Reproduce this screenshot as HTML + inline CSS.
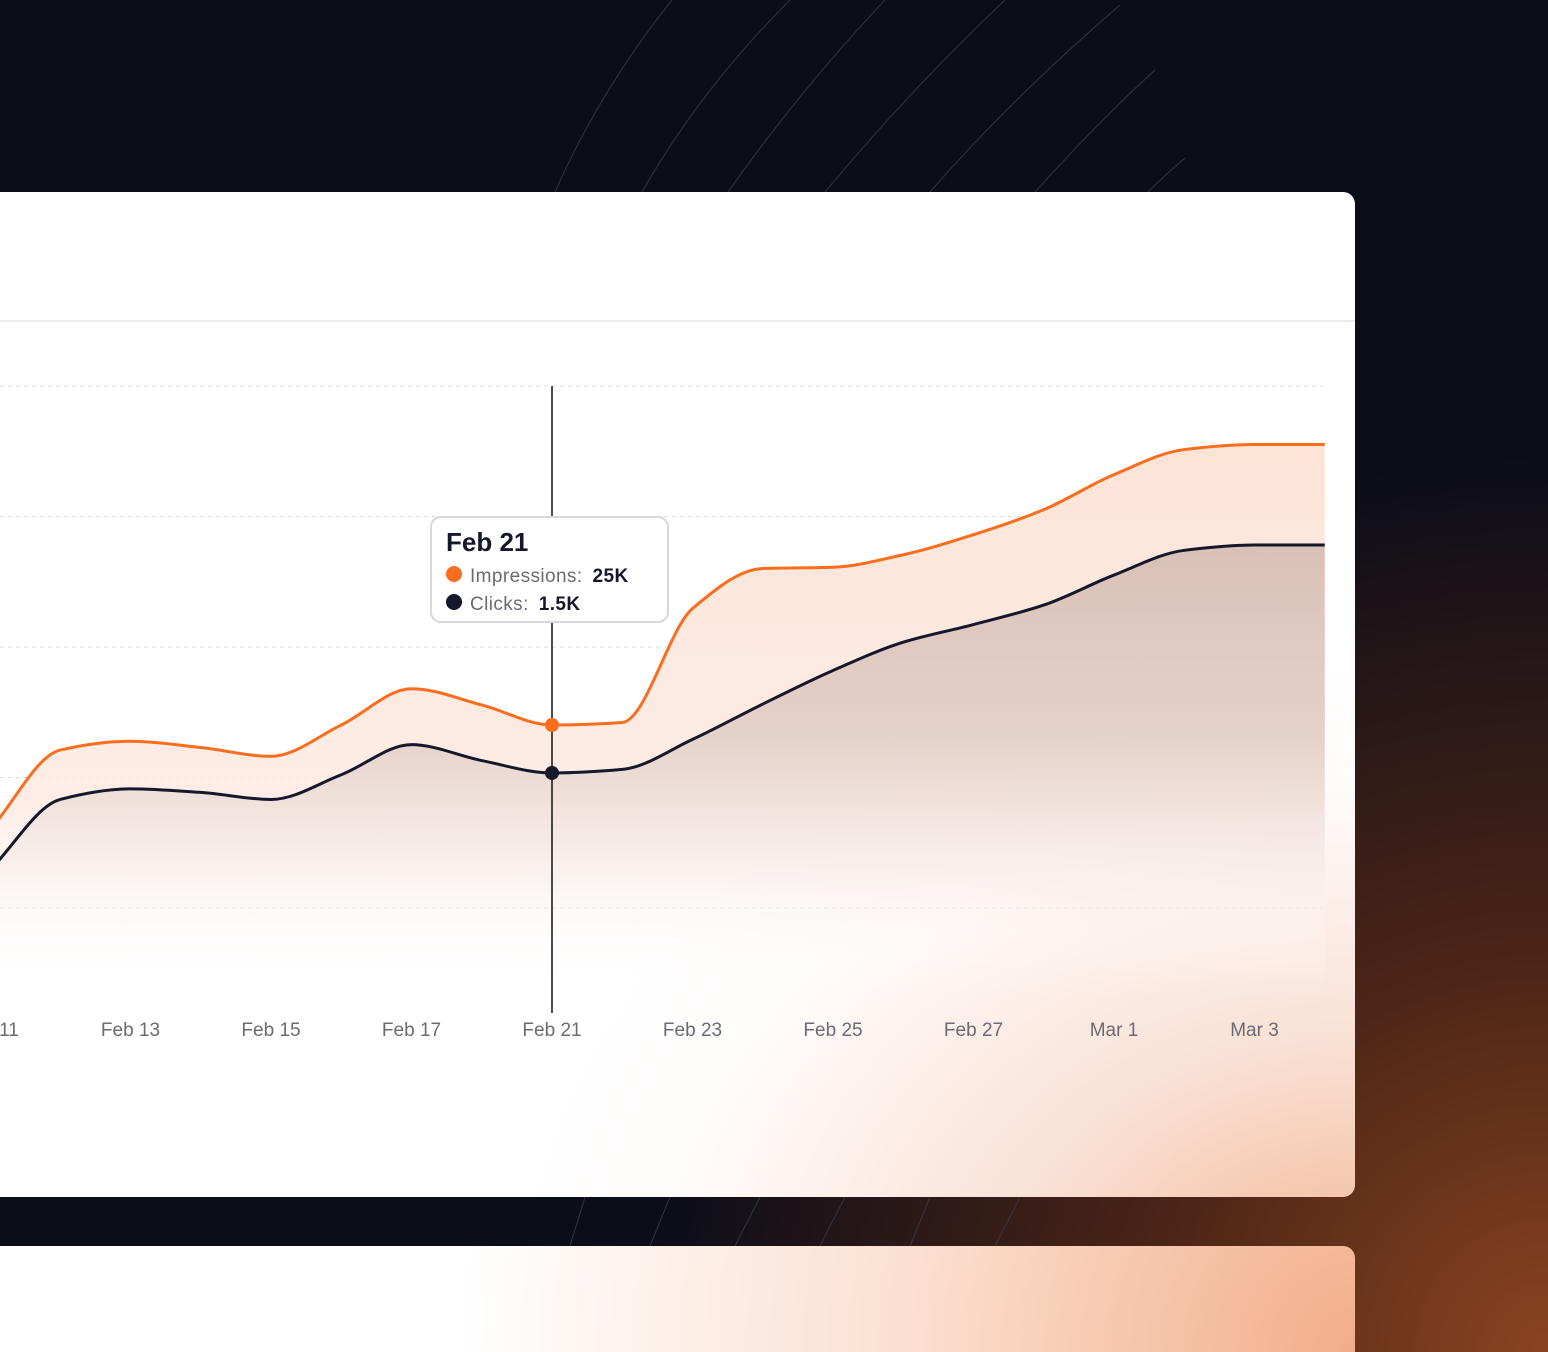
<!DOCTYPE html>
<html><head><meta charset="utf-8">
<style>
html,body{margin:0;padding:0;width:1548px;height:1352px;overflow:hidden;background:#0b0d18;font-family:"Liberation Sans",sans-serif}
</style></head>
<body>
<svg id="s" width="1548" height="1352" viewBox="0 0 1548 1352" xmlns="http://www.w3.org/2000/svg">
<defs>
<radialGradient id="bgGlow" cx="1548" cy="1352" r="900" gradientUnits="userSpaceOnUse">
<stop offset="0" stop-color="#8a4420"/><stop offset="0.45" stop-color="#4a2417"/><stop offset="1" stop-color="#0b0d18"/>
</radialGradient>
<radialGradient id="cardGlow" cx="1360" cy="1300" r="850" gradientUnits="userSpaceOnUse" gradientTransform="translate(1360 1300) scale(1 0.75) translate(-1360 -1300)">
<stop offset="0" stop-color="#f2b595"/><stop offset="0.4" stop-color="#f9e0d3"/><stop offset="0.8" stop-color="#fffbfa"/><stop offset="1" stop-color="#ffffff"/>
</radialGradient>
<radialGradient id="card2Glow" cx="1360" cy="1352" r="900" gradientUnits="userSpaceOnUse">
<stop offset="0" stop-color="#f2ad88"/><stop offset="0.5" stop-color="#fbdfd0"/><stop offset="1" stop-color="#ffffff"/>
</radialGradient>
<linearGradient id="impFill" x1="0" y1="440" x2="0" y2="1000" gradientUnits="userSpaceOnUse">
<stop offset="0" stop-color="#fde3d6"/><stop offset="0.65" stop-color="#fde9e0" stop-opacity="0.8"/><stop offset="1" stop-color="#ffffff" stop-opacity="0"/>
</linearGradient>
<linearGradient id="clkFill" x1="0" y1="540" x2="0" y2="980" gradientUnits="userSpaceOnUse">
<stop offset="0" stop-color="#d9c0b6"/><stop offset="0.45" stop-color="#dfcbc4" stop-opacity="0.8"/><stop offset="1" stop-color="#ffffff" stop-opacity="0"/>
</linearGradient>
<clipPath id="cardClip"><rect x="-20" y="192" width="1375" height="1005" rx="12"/></clipPath>
</defs>
<rect x="0" y="0" width="1548" height="1352" fill="url(#bgGlow)"/>
<g stroke="#3a3d4c" stroke-width="1.2" fill="none" opacity="0.7">
<path d="M555 192 Q600 90 672 0"/>
<path d="M642 192 Q700 90 790 0"/>
<path d="M728 192 Q800 90 885 0"/>
<path d="M825 192 Q910 90 1005 0"/>
<path d="M930 192 Q1010 100 1120 5"/>
<path d="M1035 192 Q1100 120 1155 70"/>
<path d="M1148 192 Q1165 175 1185 158"/>
<path d="M570 1246 L585 1197 M650 1246 L670 1197 M735 1246 L760 1197 M820 1246 L845 1197 M910 1246 L930 1197 M995 1246 L1020 1197"/>
</g>
<rect x="-20" y="192" width="1375" height="1005" rx="12" fill="url(#cardGlow)"/>
<rect x="-20" y="1246" width="1375" height="140" rx="12" fill="url(#card2Glow)"/>
<line x1="0" y1="321" x2="1355" y2="321" stroke="#e6e6ea" stroke-width="1.5"/>
<g id="plot" clip-path="url(#cardClip)"></g>
</svg>
<script>
const categories=["Feb 11","Feb 12","Feb 13","Feb 14","Feb 15","Feb 16","Feb 17","Feb 19","Feb 21","Feb 22","Feb 23","Feb 24","Feb 25","Feb 26","Feb 27","Feb 28","Mar 1","Mar 2","Mar 3","Mar 4"];
const impressions=[16.6,23.0,23.7,23.2,22.5,25.0,27.9,26.6,25.0,25.2,34.3,37.5,37.6,38.6,40.2,42.2,45.0,47.0,47.4,47.4];
const clicks=[0.95,1.35,1.41,1.39,1.35,1.49,1.66,1.57,1.50,1.52,1.69,1.89,2.08,2.24,2.34,2.45,2.62,2.76,2.79,2.79];
const tickLabels=["Feb 11","Feb 13","Feb 15","Feb 17","Feb 21","Feb 23","Feb 25","Feb 27","Mar 1","Mar 3"];
const tickIdx=[0,2,4,6,8,10,12,14,16,18];
const gridValues=[0,1,2,3,4];
const hoverIndex=8;

const NS="http://www.w3.org/2000/svg";
const plot=document.getElementById('plot');
const x0=-10,step=70.25,base=1038;
const xS=i=>x0+i*step;
const yImp=v=>base-v*12.52;
const yClk=v=>base-v*176.7;
const yGrid=k=>908-k*130.5;
function mk(tag,attrs){const e=document.createElementNS(NS,tag);for(const k in attrs)e.setAttribute(k,attrs[k]);return e;}
function mono(pts){
  const n=pts.length,dx=[],dy=[],m=[],t=[];
  for(let i=0;i<n-1;i++){dx.push(pts[i+1][0]-pts[i][0]);dy.push(pts[i+1][1]-pts[i][1]);m.push(dy[i]/dx[i]);}
  t[0]=m[0];t[n-1]=m[n-2];
  for(let i=1;i<n-1;i++){t[i]=(m[i-1]*m[i]<=0)?0:(3*(dx[i-1]+dx[i]))/((2*dx[i]+dx[i-1])/m[i-1]+(dx[i]+2*dx[i-1])/m[i]);}
  let d="M"+pts[0][0]+" "+pts[0][1];
  for(let i=0;i<n-1;i++){const h=dx[i];d+=` C${pts[i][0]+h/3} ${pts[i][1]+t[i]*h/3} ${pts[i+1][0]-h/3} ${pts[i+1][1]-t[i+1]*h/3} ${pts[i+1][0]} ${pts[i+1][1]}`;}
  return d;
}
gridValues.forEach(k=>{const g=mk('line',{x1:0,x2:1323,y1:yGrid(k),y2:yGrid(k),stroke:'#dcdce2','stroke-dasharray':'4 4','stroke-width':1});


plot.appendChild(g);});
const ip=impressions.map((v,i)=>[xS(i),yImp(v)]);
const cp=clicks.map((v,i)=>[xS(i),yClk(v)]);
const last=xS(categories.length-1);
const ia=mk('path',{d:mono(ip)+` L${last} 1000 L${xS(0)} 1000 Z`,fill:'url(#impFill)'});


plot.appendChild(ia);
const ca=mk('path',{d:mono(cp)+` L${last} 1000 L${xS(0)} 1000 Z`,fill:'url(#clkFill)'});


plot.appendChild(ca);
const il=mk('path',{d:mono(ip),fill:'none',stroke:'#fb6d1e','stroke-width':3});


plot.appendChild(il);
const cl=mk('path',{d:mono(cp),fill:'none',stroke:'#15172a','stroke-width':3});


plot.appendChild(cl);
tickIdx.forEach((ci,j)=>{const t=mk('text',{x:xS(ci),y:1036,'text-anchor':'middle','font-size':19,fill:'#6b6b74'});t.textContent=tickLabels[j];


plot.appendChild(t);});
const hx=xS(hoverIndex);
const vl=mk('line',{x1:hx,x2:hx,y1:386,y2:1013,stroke:'#111','stroke-width':1.5});


plot.appendChild(vl);
const d1=mk('circle',{cx:hx,cy:yImp(impressions[hoverIndex]),r:7,fill:'#fb6d1e'});


plot.appendChild(d1);
const d2=mk('circle',{cx:hx,cy:yClk(clicks[hoverIndex]),r:7,fill:'#15172a'});


plot.appendChild(d2);
const tg=mk('g',{});


tg.appendChild(mk('rect',{x:431,y:517,width:237,height:105,rx:10,fill:'#ffffff',stroke:'#d8d8dc','stroke-width':2}));
const tt=mk('text',{x:446,y:551,'font-size':26,'font-weight':'bold',fill:'#15172a'});tt.textContent=categories[hoverIndex];tg.appendChild(tt);
tg.appendChild(mk('circle',{cx:454,cy:574,r:8,fill:'#fb6d1e'}));
const r1=mk('text',{x:470,y:582,'font-size':19,fill:'#6b6b74','letter-spacing':'0.4'});r1.innerHTML='Impressions:<tspan dx="10" font-weight="bold" fill="#15172a">'+Math.round(impressions[hoverIndex])+'K</tspan>';tg.appendChild(r1);
tg.appendChild(mk('circle',{cx:454,cy:602,r:8,fill:'#15172a'}));
const r2=mk('text',{x:470,y:610,'font-size':19,fill:'#6b6b74','letter-spacing':'0.4'});r2.innerHTML='Clicks:<tspan dx="10" font-weight="bold" fill="#15172a">'+clicks[hoverIndex].toFixed(1)+'K</tspan>';tg.appendChild(r2);
plot.appendChild(tg);
</script>
</body></html>
